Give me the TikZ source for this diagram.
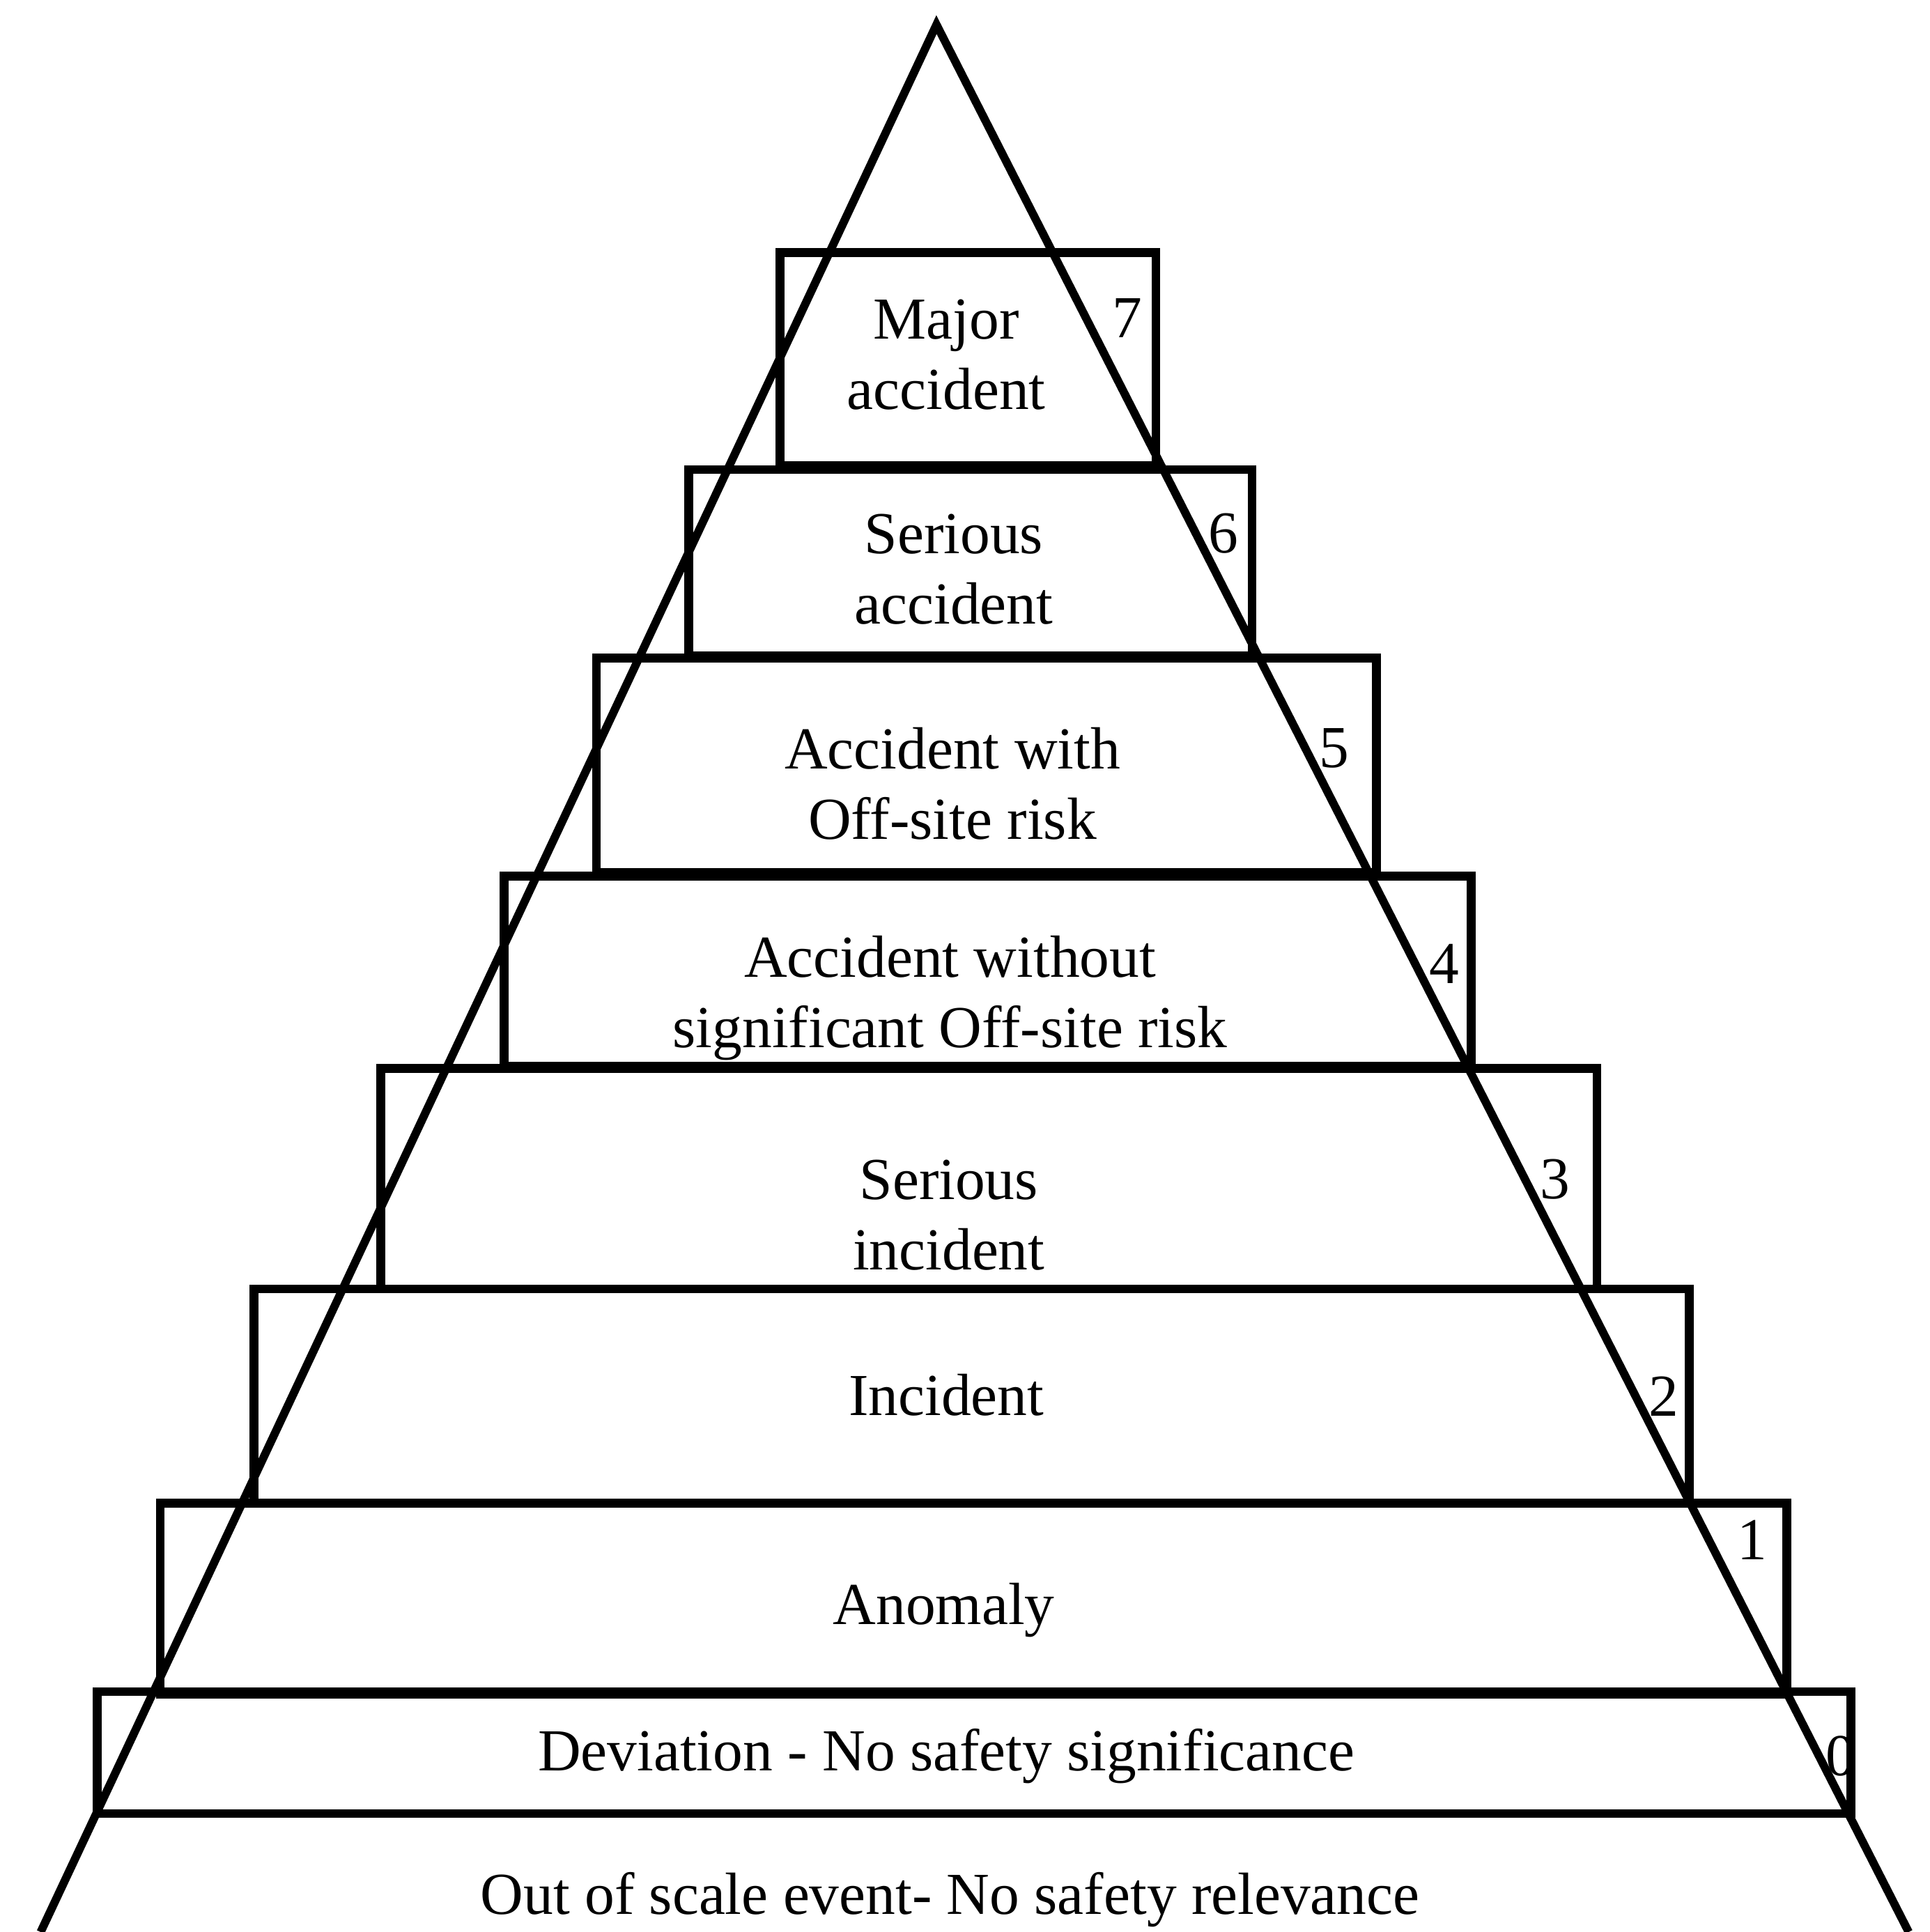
\documentclass[tikz,border=0pt]{standalone}
\usepackage{fontspec}
\setmainfont{Liberation Serif}
\begin{document}
\begin{tikzpicture}[x=0.02cm,y=-0.02cm,line width=4pt,
  lbl/.style={font=\fontsize{27.5}{32.5}\selectfont,align=center,inner sep=0pt},
  num/.style={font=\fontsize{27.5}{32.5}\selectfont,inner sep=0pt},
  levelbox/.style={draw,line join=miter}]
\useasboundingbox (0,0) rectangle (1566,1568);
% level boxes
\draw[levelbox] (633,205) rectangle (938,378);
\draw[levelbox] (559,381) rectangle (1016,532);
\draw[levelbox] (484,534) rectangle (1117,708);
\draw[levelbox] (409,711) rectangle (1194,865);
\draw[levelbox] (309,867) rectangle (1296,1046);
\draw[levelbox] (206,1046) rectangle (1371,1220);
\draw[levelbox] (130,1220) rectangle (1450,1375);
\draw[levelbox] (79,1373) rectangle (1502,1472);
% pyramid
\coordinate (apex) at (760,20);
\coordinate (bl) at (33,1568);
\coordinate (br) at (1549,1568);
\draw[line join=miter,line width=3.8pt] (bl) -- (apex) -- (br);
% labels
\node[lbl] (l7) at (768,288) {Major\\accident};
\node[lbl] (l6) at (774,462) {Serious\\accident};
\node[lbl] (l5) at (773,636) {Accident with\\Off-site risk};
\node[lbl] (l4) at (771,810) {Accident without\\significant Off-site risk};
\node[lbl] (l3) at (770,986) {Serious\\incident};
\node[lbl] (l2) at (768,1132) {Incident};
\node[lbl] (l1) at (766,1307) {Anomaly};
\node[lbl] (l0) at (768,1425) {Deviation - No safety significance};
\node[lbl] (lm) at (771,1542) {Out of scale event- No safety relevance};
% numbers
\node[num] (n7) at (915,258) {7};
\node[num] (n6) at (993,433) {6};
\node[num] (n5) at (1083,607) {5};
\node[num] (n4) at (1172,782) {4};
\node[num] (n3) at (1262,957) {3};
\node[num] (n2) at (1350,1133) {2};
\node[num] (n1) at (1422,1250) {1};
\node[num] (n0) at (1494,1425) {0};
\end{tikzpicture}
\end{document}
